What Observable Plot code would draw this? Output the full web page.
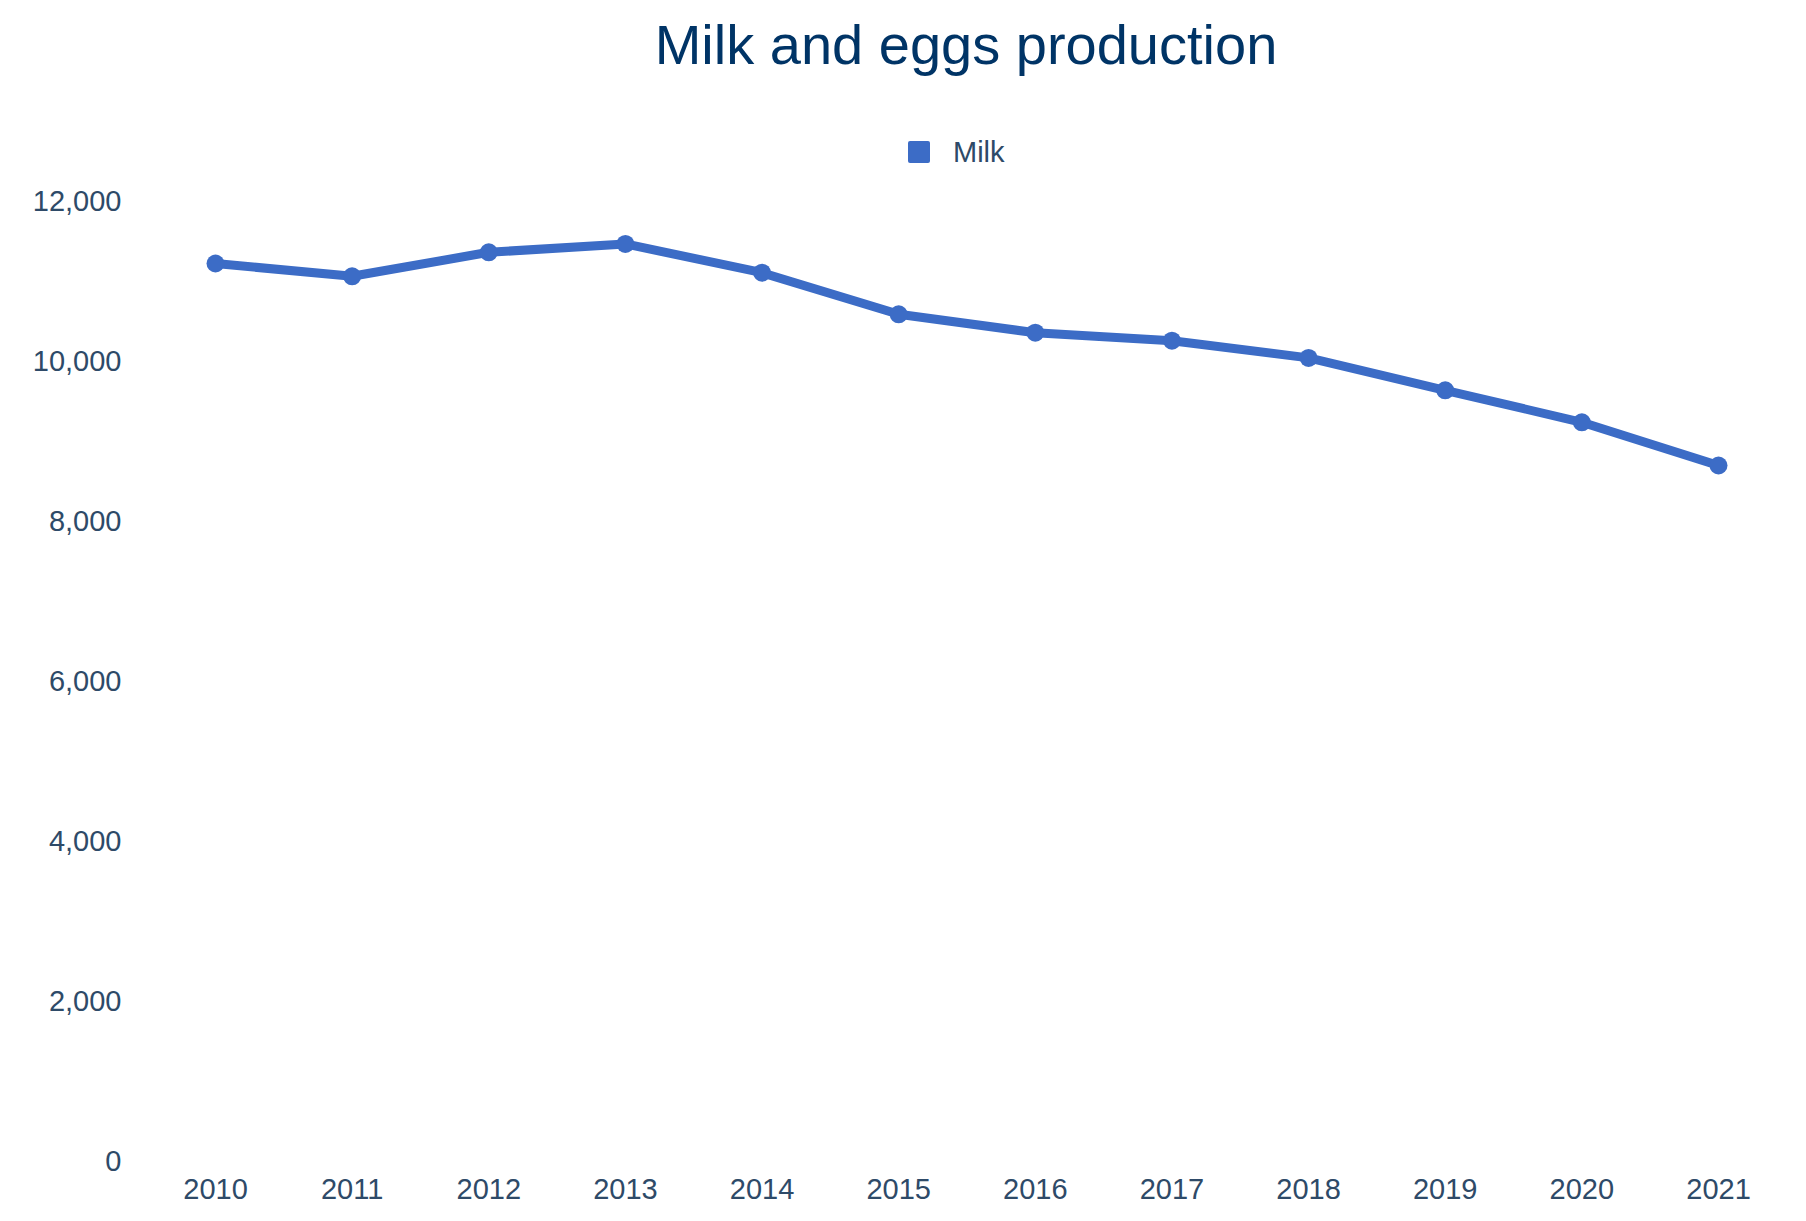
<!DOCTYPE html>
<html>
<head>
<meta charset="utf-8">
<script src="https://cdn.jsdelivr.net/npm/d3@7"></script>
<script src="https://cdn.jsdelivr.net/npm/@observablehq/plot@0.6"></script>
<style>
  html, body { margin: 0; padding: 0; background: #fff; }
  body { width: 1806px; height: 1221px; overflow: hidden; font-family: "Liberation Sans", Arial, sans-serif; }
  #title { position: relative; height: 92px; }
  #title span { position: absolute; left: 966px; transform: translateX(-50%); top: 10px; font-size: 56px; color: #003466; white-space: nowrap; line-height: 70px; }
  #legend { position: relative; height: 88px; }
  #legend .item { position: absolute; left: 908px; top: 48px; display: flex; align-items: center; }
  #legend .sw { width: 22px; height: 22px; background: #3c6cc6; border-radius: 2px; margin-right: 23px; }
  #legend .lb { font-size: 29px; color: #2e4a68; line-height: 24px; }
</style>
</head>
<body>
<div id="title"><span>Milk and eggs production</span></div>
<div id="legend"><div class="item"><div class="sw"></div><div class="lb">Milk</div></div></div>
<div id="chart"></div>
<script>
const years = [2010, 2011, 2012, 2013, 2014, 2015, 2016, 2017, 2018, 2019, 2020, 2021];
const milk = [11225, 11065, 11365, 11470, 11110, 10590, 10360, 10260, 10045, 9640, 9240, 8700];
const yTicks = [0, 2000, 4000, 6000, 8000, 10000, 12000];
const seriesName = "Milk";

const data = years.map((y, i) => ({year: y, value: milk[i], series: seriesName}));
const color = "#3c6cc6";

const chart = Plot.plot({
  width: 1806,
  height: 1041,
  marginTop: 21,
  marginBottom: 60,
  marginLeft: 215,
  marginRight: 88,
  style: {fontFamily: "'Liberation Sans', Arial, sans-serif", fontSize: "29px", color: "#2e4a68", background: "#fff"},
  x: {domain: [2010, 2021], axis: null},
  y: {domain: [0, 12000], axis: null},
  marks: [
    Plot.axisY(yTicks, {label: null, tickSize: 0, tickPadding: 94, tickFormat: d3.format(","), fill: "#2e4a68", fontSize: 29}),
    Plot.axisX(years, {label: null, tickSize: 0, tickPadding: 17, tickFormat: d => String(d), fill: "#2e4a68", fontSize: 29}),
    Plot.line(data, {x: "year", y: "value", stroke: color, strokeWidth: 9, curve: "linear"}),
    Plot.dot(data, {x: "year", y: "value", r: 9, fill: color, stroke: "none"})
  ]
});
document.getElementById("chart").appendChild(chart);
</script>
</body>
</html>
